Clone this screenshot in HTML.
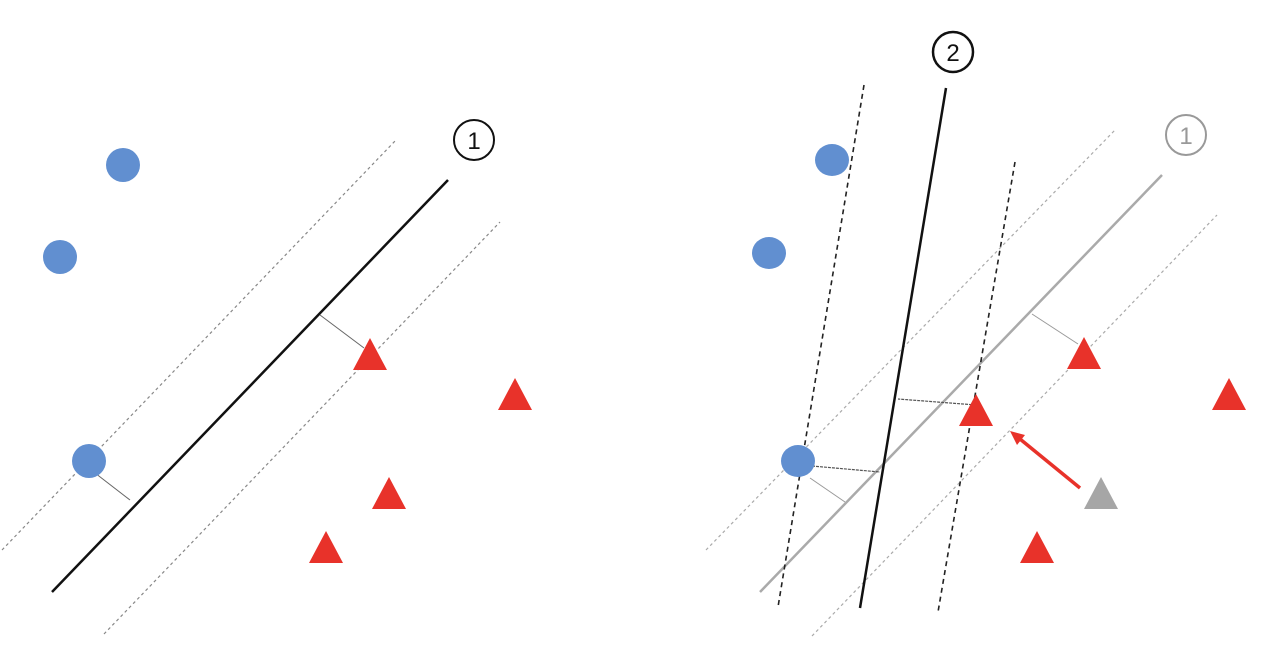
<!DOCTYPE html>
<html><head><meta charset="utf-8"><style>html,body{margin:0;padding:0;background:#fff}svg{display:block}</style></head>
<body>
<svg width="1272" height="672" viewBox="0 0 1272 672" xmlns="http://www.w3.org/2000/svg" font-family="Liberation Sans, sans-serif">
<!-- LEFT -->
<line x1="2" y1="550" x2="396" y2="140" stroke="#888" stroke-width="1.2" stroke-dasharray="3,3"/>
<line x1="104" y1="634" x2="500" y2="222" stroke="#888" stroke-width="1.2" stroke-dasharray="3,3"/>
<line x1="52" y1="592" x2="448" y2="180" stroke="#111" stroke-width="2.5"/>
<line x1="364" y1="348" x2="320" y2="315" stroke="#666" stroke-width="1"/>
<line x1="95" y1="473" x2="130" y2="500" stroke="#666" stroke-width="1"/>
<circle cx="474" cy="140" r="20" fill="#fff" stroke="#111" stroke-width="2"/>
<text x="474" y="149" font-size="24" text-anchor="middle" fill="#111">1</text>
<circle cx="123" cy="165" r="17" fill="#618fd0"/>
<circle cx="60" cy="257" r="17" fill="#618fd0"/>
<circle cx="89" cy="461" r="17" fill="#618fd0"/>
<polygon points="370,338 387,370 353,370" fill="#e8322a"/>
<polygon points="515,378 532,410 498,410" fill="#e8322a"/>
<polygon points="389,477 406,509 372,509" fill="#e8322a"/>
<polygon points="326,531 343,563 309,563" fill="#e8322a"/>
<!-- RIGHT -->
<line x1="706" y1="550" x2="1115" y2="130" stroke="#aaa" stroke-width="1.2" stroke-dasharray="3,3"/>
<line x1="812" y1="636" x2="1217" y2="215" stroke="#aaa" stroke-width="1.2" stroke-dasharray="3,3"/>
<line x1="760" y1="592" x2="1162" y2="175" stroke="#aaa" stroke-width="2.5"/>
<line x1="864" y1="85" x2="778" y2="607" stroke="#222" stroke-width="1.6" stroke-dasharray="5,4"/>
<line x1="1015" y1="162" x2="938" y2="612" stroke="#222" stroke-width="1.6" stroke-dasharray="5,4"/>
<line x1="946" y1="88" x2="860" y2="608" stroke="#111" stroke-width="2.5"/>
<line x1="976" y1="405" x2="898" y2="399" stroke="#555" stroke-width="1.2" stroke-dasharray="3,1"/>
<line x1="812" y1="466" x2="880" y2="472" stroke="#555" stroke-width="1.2" stroke-dasharray="3,1"/>
<line x1="810" y1="478" x2="845" y2="502" stroke="#999" stroke-width="1"/>
<line x1="1078" y1="344" x2="1032" y2="314" stroke="#999" stroke-width="1"/>
<line x1="1080" y1="488" x2="1020" y2="439" stroke="#e8322a" stroke-width="3.5"/>
<polygon points="1010,431 1025,435 1017,445" fill="#e8322a"/>
<circle cx="953" cy="52" r="20" fill="#fff" stroke="#111" stroke-width="2.5"/>
<text x="953" y="61" font-size="24" text-anchor="middle" fill="#111">2</text>
<circle cx="1186" cy="135" r="20" fill="#fff" stroke="#999" stroke-width="2"/>
<text x="1186" y="144" font-size="24" text-anchor="middle" fill="#999">1</text>
<ellipse cx="832" cy="160" rx="17" ry="16" fill="#618fd0"/>
<ellipse cx="769" cy="253" rx="17" ry="16" fill="#618fd0"/>
<ellipse cx="798" cy="461" rx="17" ry="16" fill="#618fd0"/>
<polygon points="1084,337 1101,369 1067,369" fill="#e8322a"/>
<polygon points="1229,378 1246,410 1212,410" fill="#e8322a"/>
<polygon points="976,394 993,426 959,426" fill="#e8322a"/>
<polygon points="1037,531 1054,563 1020,563" fill="#e8322a"/>
<polygon points="1101,477 1118,509 1084,509" fill="#a6a6a6"/>
</svg>
</body></html>
